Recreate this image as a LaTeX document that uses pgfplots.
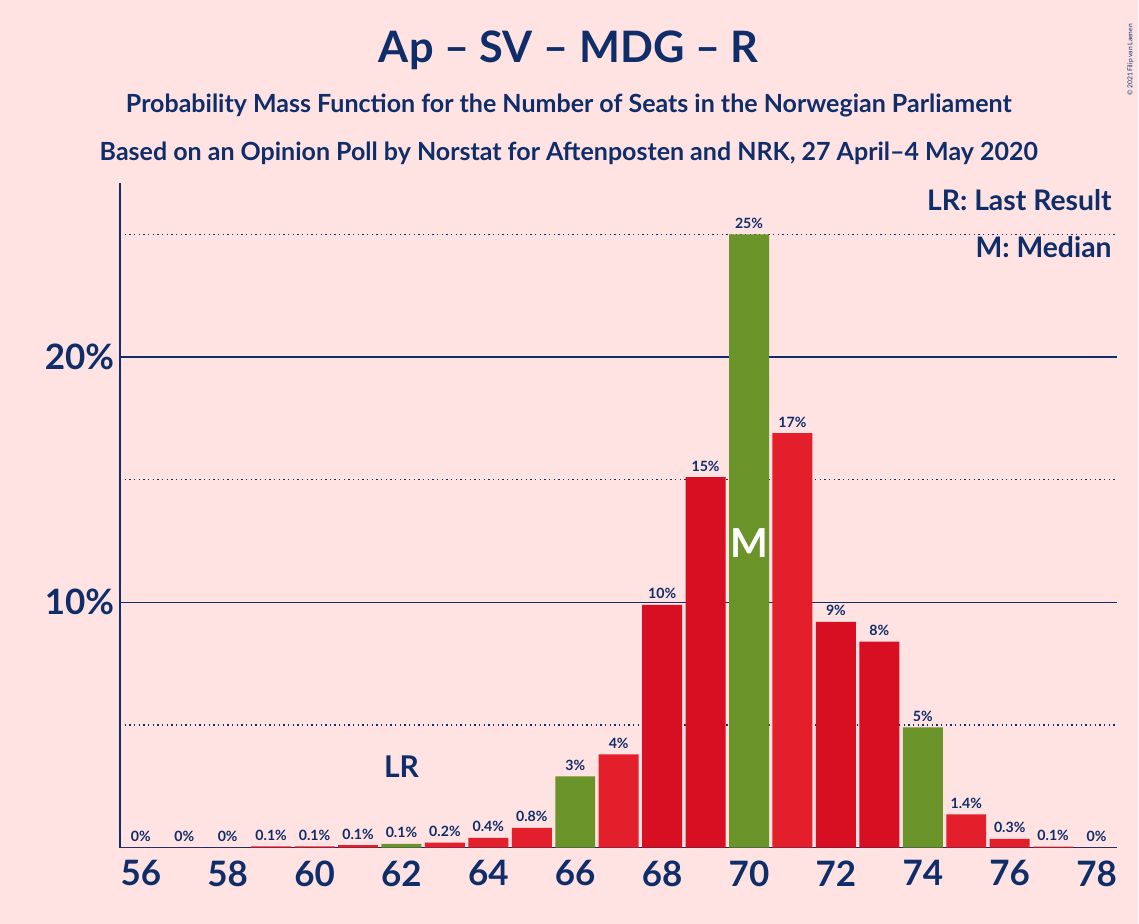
\documentclass[border=0pt]{standalone}
\usepackage{pgfplots}
\pgfplotsset{compat=1.18}
\usepackage{fontspec}
\setmainfont{Lato}
\definecolor{bg}{HTML}{FFE2E2}
\definecolor{navy}{HTML}{0F2D69}
\definecolor{redA}{HTML}{E21F2B}
\definecolor{redB}{HTML}{D80E22}
\definecolor{grn}{HTML}{6A9329}
\begin{document}
\begin{tikzpicture}
\fill[bg] (0,0) rectangle (683.4pt,554.4pt);
\node[navy,font=\fontsize{26}{30}\selectfont\bfseries] at (341.4pt,524.4pt) {Ap – SV – MDG – R};
\node[navy,font=\fontsize{15}{18}\selectfont\bfseries] at (341.4pt,490.8pt) {Probability Mass Function for the Number of Seats in the Norwegian Parliament};
\node[navy,font=\fontsize{15}{18}\selectfont\bfseries] at (341.4pt,462.6pt) {Based on an Opinion Poll by Norstat for Aftenposten and NRK, 27 April–4 May 2020};
\node[navy,rotate=90,font=\fontsize{4}{5}\selectfont] at (678.6pt,518.4pt) {© 2021 Filip van Laenen};
\begin{axis}[at={(72pt,45.6pt)},anchor=south west,scale only axis,width=598.8pt,height=399pt,
 xmin=55.52,xmax=78.48,ymin=0,ymax=27.1,
 axis line style={navy,line width=1pt},axis x line*=bottom,axis y line*=left,
 ytick={10,20},yticklabels={10\%,20\%},extra y ticks={5,15,25},extra y tick labels={},
 extra y tick style={grid=major,major grid style={navy,dotted,line width=0.8pt}},
 ymajorgrids,major grid style={navy,line width=0.8pt},
 xtick={56,58,...,78},tick style={draw=none},
 ticklabel style={navy,font=\fontsize{21}{24}\selectfont\bfseries},
 /pgf/number format/assume math mode=true,
 ybar,bar width=0.92,bar shift=0pt,
 nodes near coords,point meta=explicit symbolic,
 every node near coord/.style={navy,font=\fontsize{8.5}{10}\selectfont\bfseries},
 clip=false]
\addplot[fill=redA,draw=none] coordinates {(56,0)[0\%] (57,0)[0\%] (58,0)[0\%] (59,0.05)[0.1\%] (60,0.05)[0.1\%] (61,0.1)[0.1\%] (63,0.2)[0.2\%] (64,0.4)[0.4\%] (65,0.8)[0.8\%] (67,3.8)[4\%] (71,16.9)[17\%] (75,1.35)[1.4\%] (76,0.35)[0.3\%] (77,0.04)[0.1\%] (78,0)[0\%]};
\addplot[fill=redB,draw=none] coordinates {(68,9.9)[10\%] (69,15.1)[15\%] (72,9.2)[9\%] (73,8.4)[8\%]};
\addplot[fill=grn,draw=none] coordinates {(62,0.15)[0.1\%] (66,2.9)[3\%] (70,25)[25\%] (74,4.9)[5\%]};
\node[navy,font=\fontsize{18}{20}\selectfont\bfseries] at (axis cs:62,3.3) {LR};
\node[white,font=\fontsize{24}{26}\selectfont\bfseries] at (axis cs:70,12.4) {M};
\end{axis}
\node[navy,anchor=east,font=\fontsize{17}{20}\selectfont\bfseries] at (670.8pt,434.4pt) {LR: Last Result};
\node[navy,anchor=east,font=\fontsize{17}{20}\selectfont\bfseries] at (670.8pt,406.2pt) {M: Median};
\end{tikzpicture}
\end{document}
